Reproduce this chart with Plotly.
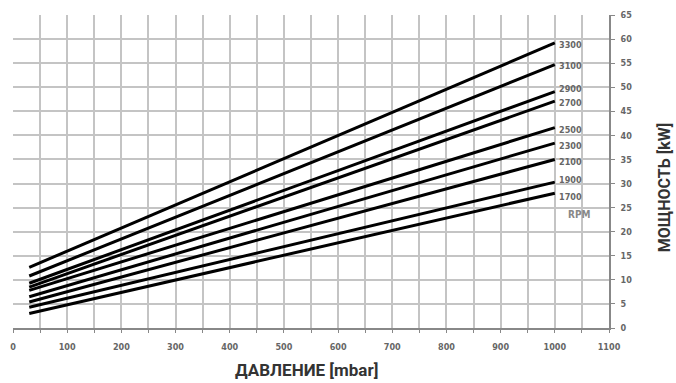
import plotly.graph_objects as go

rpm_labels = ["3300", "3100", "2900", "2700", "2500", "2300", "2100", "1900", "1700"]
pressure = [30, 1000]
power_start = [12.6, 10.8, 9.3, 8.5, 7.8, 6.5, 5.4, 4.3, 3.0]
power_end = [59.2, 54.7, 49.1, 47.1, 41.6, 38.4, 35.0, 30.3, 28.0]
# small vertical nudges (px) applied to end labels so they do not collide
label_nudge = [-2, -1, 3, -2, -2, -3, -3, 2, -4]

x_ticks = list(range(0, 1101, 100))
y_ticks = list(range(0, 66, 5))

fig = go.Figure()
for lab, s, e in zip(rpm_labels, power_start, power_end):
    fig.add_trace(go.Scatter(x=pressure, y=[s, e], mode="lines",
                             line=dict(color="black", width=3), name=lab,
                             showlegend=False, hoverinfo="skip"))

narrow = "DejaVu Sans Condensed, Liberation Sans Narrow, Arial Narrow, sans-serif"
tick_font = dict(family=narrow, size=9, color="#666666", weight="bold")

annotations = []
for lab, e, n in zip(rpm_labels, power_end, label_nudge):
    annotations.append(dict(x=pressure[-1], y=e, xref="x", yref="y", text=lab,
                            showarrow=False, xanchor="left", yanchor="middle",
                            xshift=2, yshift=n, font=tick_font))
annotations.append(dict(x=pressure[-1], y=23.6, xref="x", yref="y", text="RPM",
                        showarrow=False, xanchor="left", yanchor="middle",
                        xshift=11, font=dict(family=narrow, size=10, color="#888888", weight="bold")))
annotations.append(dict(x=0.4925, y=-0.134, xref="paper", yref="paper",
                        text="ДАВЛЕНИЕ [mbar]", showarrow=False,
                        xanchor="center", yanchor="middle",
                        font=dict(family="Roboto, sans-serif", size=17, color="#333333", weight="bold")))
annotations.append(dict(x=1.0935, y=0.449, xref="paper", yref="paper",
                        text="МОЩНОСТЬ [kW]", showarrow=False, textangle=-90,
                        xanchor="center", yanchor="middle",
                        font=dict(family="Roboto, sans-serif", size=16, color="#333333", weight="bold")))

fig.update_layout(
    width=676, height=383,
    margin=dict(l=10, r=67, t=14, b=55),
    paper_bgcolor="white", plot_bgcolor="white",
    annotations=annotations,
    xaxis=dict(range=[0, 1100], tickvals=x_ticks, ticktext=[str(v) for v in x_ticks],
               showgrid=True, gridcolor="#c4c4c4", gridwidth=1.5,
               zeroline=False, showline=True, linecolor="#888888", linewidth=1.5,
               ticks="outside", ticklen=3, tickcolor="#888888", tickfont=tick_font,
               ticklabelstandoff=6,
               minor=dict(dtick=50, tick0=0, showgrid=True, gridcolor="#c4c4c4", gridwidth=1.5,
                          ticks="outside", ticklen=3, tickcolor="#888888"),
               fixedrange=True),
    yaxis=dict(range=[0, 65], tickvals=y_ticks, side="right",
               showgrid=True, gridcolor="#c4c4c4", gridwidth=1.5, zeroline=False,
               showline=True, linecolor="#888888", linewidth=1.5,
               ticks="outside", ticklen=4, tickcolor="#888888", tickfont=tick_font,
               ticklabelstandoff=4,
               fixedrange=True),
)

fig.write_html("out.html")
